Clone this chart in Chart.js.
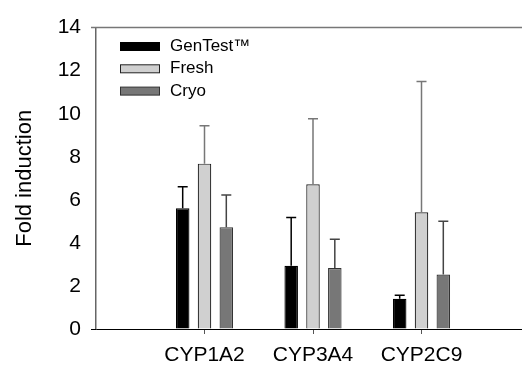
<!DOCTYPE html>
<html>
<head>
<meta charset="utf-8">
<script src="https://cdn.jsdelivr.net/npm/chart.js@4.4.1/dist/chart.umd.min.js"></script>
<style>
  html, body { margin: 0; padding: 0; background: #fff; overflow: hidden; }
  #chart { display: block; }
</style>
</head>
<body>
<canvas id="chart" width="539" height="369"></canvas>
<script>
// === Daten ===
const categories = ["CYP1A2", "CYP3A4", "CYP2C9"];
const seriesNames = ["GenTest\u2122", "Fresh", "Cryo"];
const genTest = [5.61, 2.94, 1.40];
const fresh = [7.68, 6.72, 5.42];
const cryo = [4.73, 2.83, 2.53];
// obere Fehlerbalken (SD)
const genTestErr = [1.00, 2.24, 0.17];
const freshErr = [1.76, 3.05, 6.08];
const cryoErr = [1.50, 1.34, 2.48];
const yTicks = [0, 2, 4, 6, 8, 10, 12, 14];

// leere Kategorien links/rechts, damit die Gruppen wie im Original sitzen
const labels = ["", ...categories, ""];
const pad = (arr) => [null, ...arr, null];

const FONT = "'Liberation Sans', Arial, sans-serif";

// === Fehlerbalken ===
const errorBars = {
  id: "errorBars",
  afterDatasetsDraw(chart) {
    const ctx = chart.ctx;
    const y = chart.scales.y;
    chart.data.datasets.forEach((ds, i) => {
      const meta = chart.getDatasetMeta(i);
      meta.data.forEach((bar, j) => {
        const v = ds.data[j];
        if (v == null) return;
        const top = y.getPixelForValue(v + ds.errors[j]);
        ctx.save();
        ctx.strokeStyle = ds.errorColor;
        ctx.lineWidth = 1.5;
        ctx.beginPath();
        ctx.moveTo(bar.x, bar.y);
        ctx.lineTo(bar.x, top);
        ctx.moveTo(bar.x - 5, top);
        ctx.lineTo(bar.x + 5, top);
        ctx.stroke();
        ctx.restore();
      });
    });
  },
};

// === Rahmen + Legende ===
const frameAndLegend = {
  id: "frameAndLegend",
  afterDraw(chart) {
    const ctx = chart.ctx;
    const a = chart.chartArea;
    ctx.save();
    // obere Linie
    ctx.strokeStyle = "#777";
    ctx.lineWidth = 1.5;
    ctx.beginPath();
    ctx.moveTo(a.left - 5, a.top);
    ctx.lineTo(a.right, a.top);
    ctx.stroke();
    // x-Achse nach links verlängern
    ctx.strokeStyle = "#000";
    ctx.lineWidth = 1;
    ctx.beginPath();
    ctx.moveTo(a.left - 5, a.bottom + 0.5);
    ctx.lineTo(a.left, a.bottom + 0.5);
    ctx.stroke();

    // Legende
    ctx.font = "17px " + FONT;
    ctx.textBaseline = "middle";
    chart.data.datasets.forEach((ds, i) => {
      const cy = 46.5 + i * 22.3;
      ctx.fillStyle = ds.backgroundColor;
      ctx.fillRect(120.5, cy - 4, 39, 8);
      ctx.strokeStyle = ds.borderColor;
      ctx.lineWidth = 1;
      ctx.strokeRect(120.5, cy - 4, 39, 8);
      ctx.fillStyle = "#000";
      ctx.fillText(ds.label, 170, cy);
    });
    ctx.restore();
  },
};

const datasets = [
  { label: seriesNames[0], data: pad(genTest), errors: pad(genTestErr),
    backgroundColor: "#000000", borderColor: "#000000", errorColor: "#000000" },
  { label: seriesNames[1], data: pad(fresh), errors: pad(freshErr),
    backgroundColor: "#d0d0d0", borderColor: "#222222", errorColor: "#777777" },
  { label: seriesNames[2], data: pad(cryo), errors: pad(cryoErr),
    backgroundColor: "#777777", borderColor: "#333333", errorColor: "#444444" },
].map((d) => ({ ...d, borderWidth: 1.2, categoryPercentage: 0.603, barPercentage: 0.62 }));

new Chart(document.getElementById("chart"), {
  type: "bar",
  data: { labels, datasets },
  plugins: [errorBars, frameAndLegend],
  options: {
    responsive: false,
    animation: false,
    layout: { padding: { top: 19, right: 2, left: 0, bottom: 0 } },
    plugins: { legend: { display: false }, tooltip: { enabled: false } },
    scales: {
      x: {
        offset: false,
        afterFit: (s) => { s.height = 40; },
        grid: {
          offset: false,
          drawOnChartArea: false,
          tickLength: 5,
          tickColor: (c) => (c.tick && c.tick.label === "" ? "rgba(0,0,0,0)" : "#555"),
        },
        border: { color: "#000", width: 1 },
        ticks: { color: "#000", font: { family: FONT, size: 21 }, padding: 9, maxRotation: 0, autoSkip: false },
      },
      y: {
        min: 0,
        max: 14,
        afterFit: (s) => { s.width = 96; },
        afterBuildTicks: (s) => { s.ticks = yTicks.map((v) => ({ value: v })); },
        grid: { display: true, drawOnChartArea: false, drawTicks: false },
        border: { color: "#666", width: 1.5 },
        ticks: { color: "#000", font: { family: FONT, size: 21 }, padding: 15 },
        title: {
          display: true,
          text: "Fold induction",
          color: "#000",
          font: { family: FONT, size: 22 },
          padding: { top: 12, bottom: 0 },
        },
      },
    },
  },
});
</script>
</body>
</html>
